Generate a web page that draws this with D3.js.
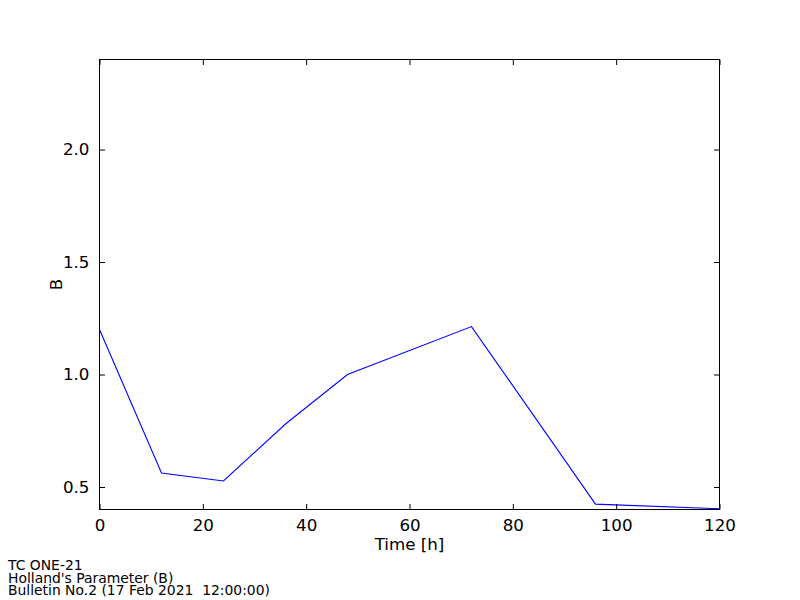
<!DOCTYPE html>
<html><head><meta charset="utf-8">
<script src="https://cdn.jsdelivr.net/npm/d3@7"></script>
<style>body{margin:0;background:#fff}svg{display:block;font-family:"DejaVu Sans",sans-serif}.foot{white-space:pre}</style>
</head><body><svg id="c" width="800" height="600"></svg>
<script>
const times = [0, 12, 24, 36, 48, 72, 96, 120];
const bValues = [1.20, 0.562, 0.527, 0.78, 1.0, 1.213, 0.424, 0.403];
const xTicks = [0, 20, 40, 60, 80, 100, 120];
const yTicks = [0.5, 1.0, 1.5, 2.0];
const footer = ["TC ONE-21", "Holland's Parameter (B)", "Bulletin No.2 (17 Feb 2021  12:00:00)"];

const svg = d3.select("#c");
const L = 99.5, R = 719.5, T = 59.5, B = 509.5;
const x = d3.scaleLinear().domain([0, 120]).range([L, R]);
const y = d3.scaleLinear().domain([0.4, 2.4]).range([B, T]);
const tk = 5.5;

// line
svg.append("path").datum(times.map((t, i) => [t, bValues[i]]))
  .attr("fill", "none").attr("stroke", "#0000ff").attr("stroke-width", 1.1)
  .attr("d", d3.line().x(d => x(d[0])).y(d => y(d[1])));

// axes (inward ticks on all sides)
const fmtY = d3.format(".1f");
svg.append("g").attr("transform", `translate(0,${B})`)
  .call(d3.axisBottom(x).tickValues(xTicks).tickSizeInner(-tk).tickSizeOuter(0).tickPadding(10).tickFormat(d3.format("d")));
svg.append("g").attr("transform", `translate(0,${T})`)
  .call(d3.axisTop(x).tickValues(xTicks).tickSizeInner(-tk).tickSizeOuter(0).tickFormat(""));
svg.append("g").attr("transform", `translate(${L},0)`)
  .call(d3.axisLeft(y).tickValues(yTicks).tickSizeInner(-tk).tickSizeOuter(0).tickPadding(10).tickFormat(fmtY));
svg.append("g").attr("transform", `translate(${R},0)`)
  .call(d3.axisRight(y).tickValues(yTicks).tickSizeInner(-tk).tickSizeOuter(0).tickFormat(""));
svg.selectAll(".domain").remove();
svg.selectAll(".tick line").attr("stroke", "#000").attr("stroke-width", 1);
svg.selectAll(".tick text").attr("font-size", "16.7px").attr("font-family", "DejaVu Sans").attr("fill", "#000");

svg.append("rect").attr("x", L).attr("y", T).attr("width", R - L).attr("height", B - T)
  .attr("fill", "none").attr("stroke", "#000").attr("stroke-width", 1);

svg.append("text").attr("x", (L + R) / 2).attr("y", 550).attr("text-anchor", "middle")
  .attr("font-size", "16.7px").text("Time [h]");
svg.append("text").attr("transform", `translate(62,${(T + B) / 2}) rotate(-90)`).attr("text-anchor", "middle")
  .attr("font-size", "16.7px").text("B");

svg.append("g").selectAll("text").data(footer).join("text")
  .attr("class", "foot").attr("xml:space", "preserve")
  .attr("x", 8).attr("y", (d, i) => 570 + i * 12.6).attr("font-size", "13.9px").text(d => d);
</script></body></html>
